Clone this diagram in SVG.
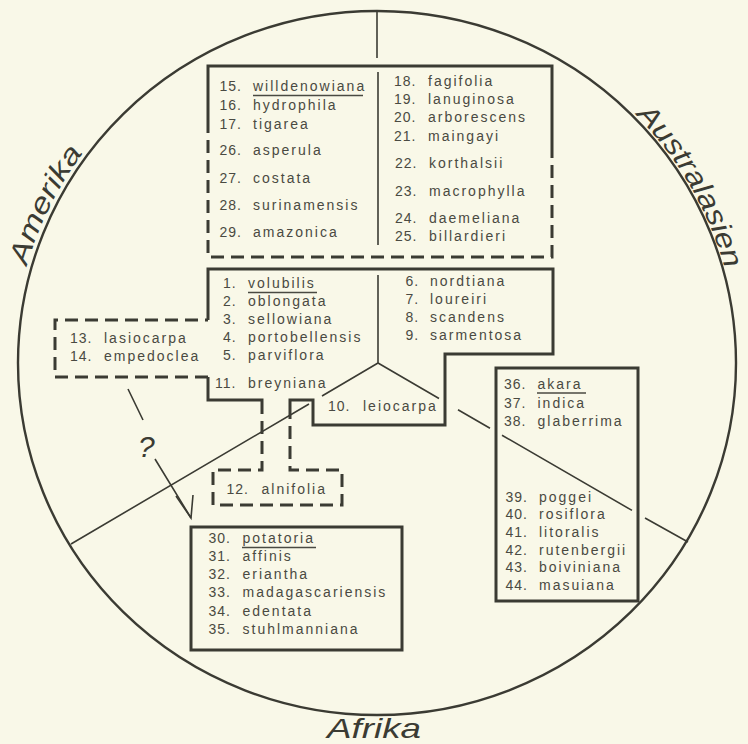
<svg xmlns="http://www.w3.org/2000/svg" width="748" height="744" viewBox="0 0 748 744">
<defs>
<style>
.bg{fill:#f9f8e8}
.ring{fill:none;stroke:#3b3b33;stroke-width:2.4}
.div{fill:none;stroke:#3b3b33;stroke-width:1.6}
.solid{fill:none;stroke:#3b3b33;stroke-width:3;stroke-linejoin:miter}
.dash{fill:none;stroke:#3b3b33;stroke-width:3;stroke-dasharray:13 7}
.ul{stroke:#4a4a42;stroke-width:1.3}
.t{font-family:"Liberation Sans",Arial,sans-serif;font-size:14px;letter-spacing:2px;fill:#4a4a42}
.n{font-family:"Liberation Sans",Arial,sans-serif;font-size:14px;letter-spacing:1px;fill:#4a4a42}
.reg{font-family:"Liberation Sans",Arial,sans-serif;font-style:italic;font-size:28px;fill:#3b3b33}
</style>
<path id="arcAm" d="M19,300 A364,357 0 0,1 131,100"/>
<path id="arcAu" d="M606,88 A361,354 0 0,1 736,330"/>
</defs>
<rect class="bg" x="0" y="0" width="748" height="744"/>

<g id="world">
<ellipse class="ring" cx="377" cy="363" rx="359" ry="352"/>
<text class="reg"><textPath href="#arcAm" startOffset="35" textLength="127" lengthAdjust="spacingAndGlyphs">Amerika</textPath></text>
<text class="reg"><textPath href="#arcAu" startOffset="40" textLength="180" lengthAdjust="spacingAndGlyphs">Australasien</textPath></text>
<text class="reg" x="327" y="738" textLength="94" lengthAdjust="spacingAndGlyphs">Afrika</text>
</g>

<g id="connectors">
<path class="div" d="M377,11 V58"/>
<path class="div" d="M378,72 V245"/>
<path class="div" d="M378,275 V363"/>
<path class="div" d="M378,363 L322,396 M309,404 L71,544"/>
<path class="div" d="M378,363 L439,398.5 M458,409.7 L490,428.3 M502,435.2 L632,510.4 M645,518 L688,542"/>
<path class="div" stroke-width="2" d="M128,389 L143,420 M155,459 L191,518"/>
<path class="div" stroke-width="2.2" d="M176,496 L191,518 L193,495"/>
<text x="138" y="457" font-family="Liberation Sans, Arial, sans-serif" font-style="italic" font-size="30" fill="#3b3b33">?</text>
</g>

<g id="node-america-top">
<path class="solid" d="M208,133 V66 H552 V145"/>
<path class="dash" d="M552,145 V257 H208 V133"/>
<text class="n" x="219.5" y="91">15.</text><text class="t" x="253" y="91">willdenowiana</text>
<line class="ul" x1="253" y1="95.5" x2="363" y2="95.5"/>
<text class="n" x="219.5" y="110">16.</text><text class="t" x="253" y="110">hydrophila</text>
<text class="n" x="219.5" y="129">17.</text><text class="t" x="253" y="129">tigarea</text>
<text class="n" x="219.5" y="155">26.</text><text class="t" x="253" y="155">asperula</text>
<text class="n" x="219.5" y="183">27.</text><text class="t" x="253" y="183">costata</text>
<text class="n" x="219.5" y="210">28.</text><text class="t" x="253" y="210">surinamensis</text>
<text class="n" x="219.5" y="237">29.</text><text class="t" x="253" y="237">amazonica</text>
<text class="n" x="394" y="86">18.</text><text class="t" x="428" y="86">fagifolia</text>
<text class="n" x="394" y="103.5">19.</text><text class="t" x="428" y="103.5">lanuginosa</text>
<text class="n" x="394" y="121.5">20.</text><text class="t" x="428" y="121.5">arborescens</text>
<text class="n" x="394" y="141">21.</text><text class="t" x="428" y="141">maingayi</text>
<text class="n" x="395" y="168">22.</text><text class="t" x="429" y="168">korthalsii</text>
<text class="n" x="395" y="196">23.</text><text class="t" x="429" y="196">macrophylla</text>
<text class="n" x="395" y="223">24.</text><text class="t" x="429" y="223">daemeliana</text>
<text class="n" x="395" y="241">25.</text><text class="t" x="429" y="241">billardieri</text>
</g>

<g id="node-center">
<path class="solid" d="M208,320 V269 H553 V354 H445 V425 H313 V400 H290 V406"/>
<path class="solid" d="M262,408 V400 H208 V377"/>
<text class="n" x="223" y="288">1.</text><text class="t" x="248" y="288">volubilis</text>
<line class="ul" x1="248" y1="292.5" x2="317" y2="292.5"/>
<text class="n" x="223" y="306">2.</text><text class="t" x="248" y="306">oblongata</text>
<text class="n" x="223" y="324">3.</text><text class="t" x="248" y="324">sellowiana</text>
<text class="n" x="223" y="342">4.</text><text class="t" x="248" y="342">portobellensis</text>
<text class="n" x="223" y="360">5.</text><text class="t" x="248" y="360">parviflora</text>
<text class="n" x="215" y="388">11.</text><text class="t" x="248" y="388">breyniana</text>
<text class="n" x="405.5" y="286">6.</text><text class="t" x="430" y="286">nordtiana</text>
<text class="n" x="405.5" y="303.5">7.</text><text class="t" x="430" y="303.5">loureiri</text>
<text class="n" x="405.5" y="321.5">8.</text><text class="t" x="430" y="321.5">scandens</text>
<text class="n" x="405.5" y="340">9.</text><text class="t" x="430" y="340">sarmentosa</text>
<text class="n" x="328" y="411">10.</text><text class="t" x="363" y="411">leiocarpa</text>
</g>

<g id="node-lasiocarpa">
<path class="dash" d="M208,377 H55 V320 H208"/>
<text class="n" x="70" y="343">13.</text><text class="t" x="104" y="343">lasiocarpa</text>
<text class="n" x="70" y="361">14.</text><text class="t" x="104" y="361">empedoclea</text>
</g>

<g id="node-alnifolia">
<path class="dash" d="M290,406 V470 H342 V505 H213 V470 H262 V408"/>
<text class="n" x="226.5" y="494">12.</text><text class="t" x="261.5" y="494">alnifolia</text>
</g>

<g id="node-africa">
<rect class="solid" x="191" y="527" width="211" height="123"/>
<text class="n" x="208.5" y="543">30.</text><text class="t" x="242.5" y="543">potatoria</text>
<line class="ul" x1="242" y1="547.5" x2="316" y2="547.5"/>
<text class="n" x="208.5" y="561">31.</text><text class="t" x="242.5" y="561">affinis</text>
<text class="n" x="208.5" y="579">32.</text><text class="t" x="242.5" y="579">eriantha</text>
<text class="n" x="208.5" y="597">33.</text><text class="t" x="242.5" y="597">madagascariensis</text>
<text class="n" x="208.5" y="615.5">34.</text><text class="t" x="242.5" y="615.5">edentata</text>
<text class="n" x="208.5" y="634">35.</text><text class="t" x="242.5" y="634">stuhlmanniana</text>
</g>

<g id="node-asia-africa">
<rect class="solid" x="496" y="368" width="142" height="233"/>
<text class="n" x="504" y="389">36.</text><text class="t" x="537.5" y="389">akara</text>
<line class="ul" x1="537" y1="393" x2="586" y2="393"/>
<text class="n" x="504" y="407.5">37.</text><text class="t" x="537.5" y="407.5">indica</text>
<text class="n" x="504" y="426">38.</text><text class="t" x="537.5" y="426">glaberrima</text>
<text class="n" x="505.5" y="502">39.</text><text class="t" x="539" y="502">poggei</text>
<text class="n" x="505.5" y="519">40.</text><text class="t" x="539" y="519">rosiflora</text>
<text class="n" x="505.5" y="536.5">41.</text><text class="t" x="539" y="536.5">litoralis</text>
<text class="n" x="505.5" y="554.5">42.</text><text class="t" x="539" y="554.5">rutenbergii</text>
<text class="n" x="505.5" y="572">43.</text><text class="t" x="539" y="572">boiviniana</text>
<text class="n" x="505.5" y="589.5">44.</text><text class="t" x="539" y="589.5">masuiana</text>
</g>
</svg>
